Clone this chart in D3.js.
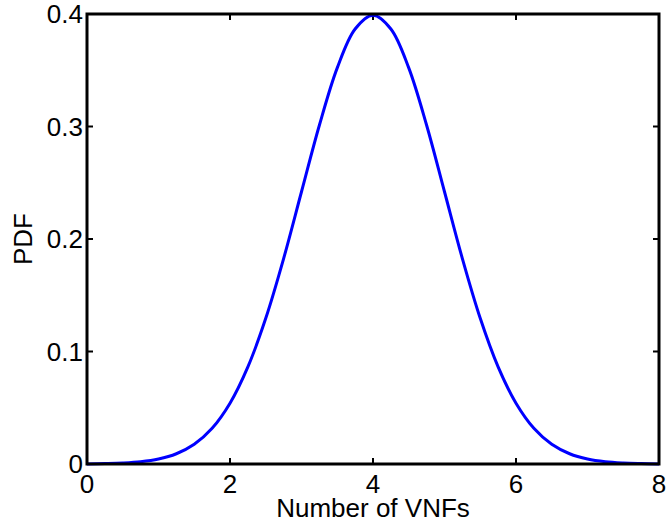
<!DOCTYPE html>
<html><head><meta charset="utf-8">
<script src="https://cdn.jsdelivr.net/npm/d3@7"></script>
<style>body{margin:0;background:#fff}svg{display:block}text{font-family:"Liberation Sans",Arial,sans-serif;fill:#000}</style>
</head><body><svg id="c" width="667" height="526"></svg>
<script>
const xValues = [0,0.25,0.5,0.75,1,1.25,1.5,1.75,2,2.25,2.5,2.75,3,3.25,3.5,3.75,4,4.25,4.5,4.75,5,5.25,5.5,5.75,6,6.25,6.5,6.75,7,7.25,7.5,7.75,8];
const pdfValues = [0.0001,0.0004,0.0009,0.0020,0.0044,0.0091,0.0175,0.0317,0.0540,0.0863,0.1295,0.1826,0.2420,0.3011,0.3521,0.3867,0.3989,0.3867,0.3521,0.3011,0.2420,0.1826,0.1295,0.0863,0.0540,0.0317,0.0175,0.0091,0.0044,0.0020,0.0009,0.0004,0.0001];
const xTicks = [0,2,4,6,8];
const yTicks = [0,0.1,0.2,0.3,0.4];
const xLabel = "Number of VNFs", yLabel = "PDF";

const L=87,R=659,T=14,B=464;
const svg=d3.select("#c");
const x=d3.scaleLinear().domain([0,8]).range([L,R]);
const y=d3.scaleLinear().domain([0,0.4]).range([B,T]);
const fs=26;
const g=svg.append("g");
xTicks.forEach(t=>{
  g.append("line").attr("x1",x(t)).attr("x2",x(t)).attr("y1",B).attr("y2",B-6).attr("stroke","#000").attr("stroke-width",2);
  g.append("line").attr("x1",x(t)).attr("x2",x(t)).attr("y1",T).attr("y2",T+6).attr("stroke","#000").attr("stroke-width",2);
  g.append("text").attr("x",x(t)).attr("y",493).attr("text-anchor","middle").attr("font-size",fs).text(d3.format("")(t));
});
yTicks.forEach(t=>{
  g.append("line").attr("x1",L).attr("x2",L+6).attr("y1",y(t)).attr("y2",y(t)).attr("stroke","#000").attr("stroke-width",2);
  g.append("line").attr("x1",R).attr("x2",R-6).attr("y1",y(t)).attr("y2",y(t)).attr("stroke","#000").attr("stroke-width",2);
  g.append("text").attr("x",L-4).attr("y",y(t)+9).attr("text-anchor","end").attr("font-size",fs).text(t===0?"0":d3.format(".1f")(t));
});
const line=d3.line().x((d,i)=>x(xValues[i])).y(d=>y(d)).curve(d3.curveCatmullRom);
svg.append("path").datum(pdfValues).attr("d",line).attr("fill","none").attr("stroke","#0000ff").attr("stroke-width",3);
svg.append("rect").attr("x",L).attr("y",T).attr("width",R-L).attr("height",B-T).attr("fill","none").attr("stroke","#000").attr("stroke-width",3);
svg.append("text").attr("x",(L+R)/2).attr("y",517).attr("text-anchor","middle").attr("font-size",fs).text(xLabel);
svg.append("text").attr("transform",`translate(32,${(T+B)/2}) rotate(-90)`).attr("text-anchor","middle").attr("font-size",fs).text(yLabel);
</script></body></html>
